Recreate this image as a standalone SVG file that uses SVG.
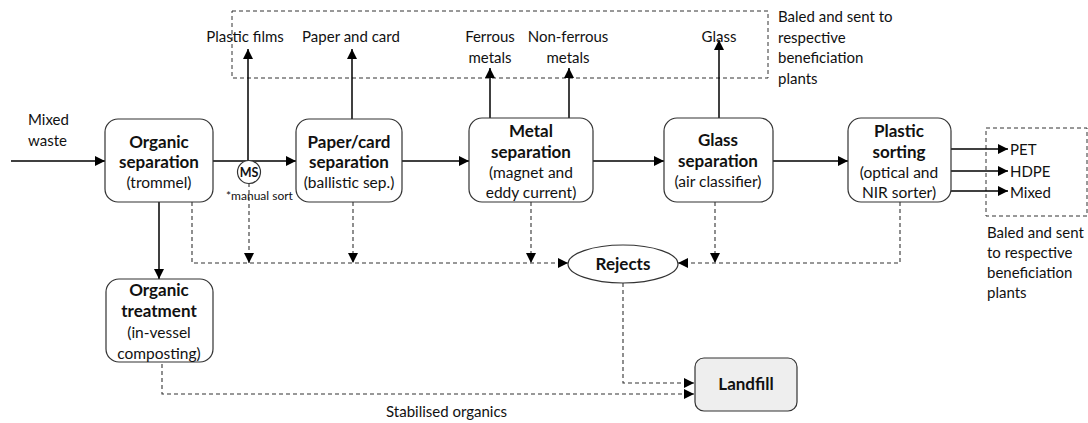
<svg xmlns="http://www.w3.org/2000/svg" width="1088" height="423" viewBox="0 0 1088 423">
  <defs>
    <marker id="arr" viewBox="0 0 10 10" refX="10" refY="5" markerWidth="10" markerHeight="10" markerUnits="userSpaceOnUse" orient="auto">
      <path d="M0,0 L10,5 L0,10 Z" fill="#000"/>
    </marker>
    <style>
      text { font-family: Lato, "Noto Sans", "Liberation Sans", sans-serif; fill: #111; }
      .lbl { font-size: 15px; }
      .small { font-size: 12px; }
      .title { font-size: 17px; font-weight: bold; text-anchor: middle; }
      .sub { font-size: 15.5px; text-anchor: middle; }
      .box { fill: #fff; stroke: #333; stroke-width: 1.2; }
      .solid { fill: none; stroke: #000; stroke-width: 1.5; }
      .dash { fill: none; stroke: #333; stroke-width: 1.1; stroke-dasharray: 4 3; }
      .frame { fill: none; stroke: #333; stroke-width: 1; stroke-dasharray: 4 3; }
    </style>
  </defs>
  <rect width="1088" height="423" fill="#fff"/>

  <!-- dashed frames around baled product streams -->
  <g id="frames">
    <rect class="frame" x="232" y="11" width="536" height="67"/>
    <rect class="frame" x="986" y="128" width="101" height="88"/>
  </g>

  <!-- connectors -->
  <g id="connectors">
    <!-- main solid flow -->
    <line class="solid" x1="11" y1="161" x2="105" y2="161" marker-end="url(#arr)"/>
    <line class="solid" x1="213" y1="161" x2="296" y2="161" marker-end="url(#arr)"/>
    <line class="solid" x1="402" y1="161" x2="469" y2="161" marker-end="url(#arr)"/>
    <line class="solid" x1="593" y1="161" x2="664" y2="161" marker-end="url(#arr)"/>
    <line class="solid" x1="773" y1="161" x2="848" y2="161" marker-end="url(#arr)"/>
    <line class="solid" x1="159" y1="202" x2="159" y2="279" marker-end="url(#arr)"/>
    <!-- recovered streams up -->
    <line class="solid" x1="248" y1="161" x2="248" y2="49" marker-end="url(#arr)"/>
    <line class="solid" x1="352" y1="119" x2="352" y2="49" marker-end="url(#arr)"/>
    <line class="solid" x1="490" y1="119" x2="490" y2="68" marker-end="url(#arr)"/>
    <line class="solid" x1="569" y1="119" x2="569" y2="68" marker-end="url(#arr)"/>
    <line class="solid" x1="719" y1="119" x2="719" y2="40" marker-end="url(#arr)"/>
    <!-- plastic outputs -->
    <line class="solid" x1="951" y1="149" x2="1008" y2="149" marker-end="url(#arr)"/>
    <line class="solid" x1="951" y1="171" x2="1008" y2="171" marker-end="url(#arr)"/>
    <line class="solid" x1="951" y1="191" x2="1008" y2="191" marker-end="url(#arr)"/>
    <!-- reject streams -->
    <polyline class="dash" points="192,202 192,263 568,263" marker-end="url(#arr)"/>
    <line class="dash" x1="249" y1="183" x2="249" y2="263" marker-end="url(#arr)"/>
    <line class="dash" x1="353" y1="202" x2="353" y2="263" marker-end="url(#arr)"/>
    <line class="dash" x1="531" y1="202" x2="531" y2="263" marker-end="url(#arr)"/>
    <line class="dash" x1="715" y1="202" x2="715" y2="263" marker-end="url(#arr)"/>
    <polyline class="dash" points="900,202 900,263 678,263" marker-end="url(#arr)"/>
    <!-- to landfill -->
    <polyline class="dash" points="623,283 623,383 694,383" marker-end="url(#arr)"/>
    <polyline class="dash" points="162,357 162,394 694,394" marker-end="url(#arr)"/>
  </g>

  <!-- nodes -->
  <g id="organic-separation">
    <rect class="box" x="105" y="119" width="108" height="83" rx="13"/>
    <text class="title" x="159" y="148">Organic</text>
    <text class="title" x="159" y="168">separation</text>
    <text class="sub" x="159" y="188">(trommel)</text>
  </g>
  <g id="manual-sort">
    <circle cx="249" cy="172" r="11.5" fill="#fff" stroke="#333" stroke-width="1.2"/>
    <text x="249" y="176.5" font-size="12.5" font-weight="bold" text-anchor="middle">MS</text>
    <text class="small" x="226" y="200">*manual sort</text>
  </g>
  <g id="paper-separation">
    <rect class="box" x="296" y="119" width="106" height="83" rx="13"/>
    <text class="title" x="349" y="148">Paper/card</text>
    <text class="title" x="349" y="168">separation</text>
    <text class="sub" x="349" y="188">(ballistic sep.)</text>
  </g>
  <g id="metal-separation">
    <rect class="box" x="469" y="118" width="124" height="84" rx="13"/>
    <text class="title" x="531" y="137">Metal</text>
    <text class="title" x="531" y="158">separation</text>
    <text class="sub" x="531" y="178">(magnet and</text>
    <text class="sub" x="531" y="198">eddy current)</text>
  </g>
  <g id="glass-separation">
    <rect class="box" x="664" y="118" width="109" height="84" rx="13"/>
    <text class="title" x="718" y="146">Glass</text>
    <text class="title" x="718" y="167">separation</text>
    <text class="sub" x="718" y="187">(air classifier)</text>
  </g>
  <g id="plastic-sorting">
    <rect class="box" x="848" y="118" width="103" height="84" rx="13"/>
    <text class="title" x="899" y="137">Plastic</text>
    <text class="title" x="899" y="158">sorting</text>
    <text class="sub" x="899" y="178">(optical and</text>
    <text class="sub" x="899" y="198">NIR sorter)</text>
  </g>
  <g id="organic-treatment">
    <rect class="box" x="106" y="279" width="107" height="83" rx="13"/>
    <text class="title" x="159" y="296">Organic</text>
    <text class="title" x="159" y="317">treatment</text>
    <text class="sub" x="159" y="338">(in-vessel</text>
    <text class="sub" x="159" y="359">composting)</text>
  </g>
  <g id="rejects">
    <ellipse cx="623" cy="264" rx="55" ry="19" fill="#fff" stroke="#333" stroke-width="1.2"/>
    <text class="title" x="623" y="270">Rejects</text>
  </g>
  <g id="landfill">
    <rect x="695" y="358" width="102" height="53" rx="9" fill="#eeeeee" stroke="#333" stroke-width="1.2"/>
    <text class="title" x="746" y="390">Landfill</text>
  </g>

  <!-- labels -->
  <g id="labels" class="lbl">
    <text x="28" y="125">Mixed</text>
    <text x="28" y="146">waste</text>
    <text x="245" y="42" text-anchor="middle">Plastic films</text>
    <text x="351" y="42" text-anchor="middle">Paper and card</text>
    <text x="490" y="42" text-anchor="middle">Ferrous</text>
    <text x="490" y="63" text-anchor="middle">metals</text>
    <text x="568" y="42" text-anchor="middle">Non-ferrous</text>
    <text x="568" y="63" text-anchor="middle">metals</text>
    <text x="719" y="42" text-anchor="middle">Glass</text>
    <text x="778" y="22">Baled and sent to</text>
    <text x="778" y="43">respective</text>
    <text x="778" y="63">beneficiation</text>
    <text x="778" y="84">plants</text>
    <text x="1010" y="155">PET</text>
    <text x="1010" y="177">HDPE</text>
    <text x="1010" y="198">Mixed</text>
    <text x="987" y="238">Baled and sent</text>
    <text x="987" y="258">to respective</text>
    <text x="987" y="278">beneficiation</text>
    <text x="987" y="298">plants</text>
    <text x="386" y="417">Stabilised organics</text>
  </g>
</svg>
